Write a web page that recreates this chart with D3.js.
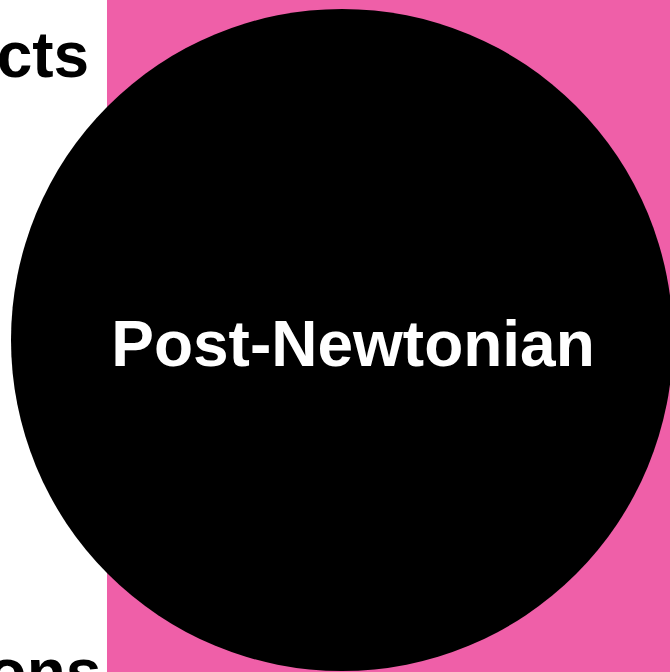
<!DOCTYPE html>
<html>
<head>
<meta charset="utf-8">
<script src="https://cdn.jsdelivr.net/npm/d3@7"></script>
<style>
  html, body { margin: 0; padding: 0; background: #fff; overflow: hidden; }
  text { font-family: "Liberation Sans", Arial, Helvetica, sans-serif; font-weight: bold; }
</style>
</head>
<body>
<div id="chart"></div>
<script>
// zoomed-in view of a packed hierarchy: one focused node, parts of its siblings
const nodeNames = ["Post-Newtonian"];
const nodeCx = [0];
const nodeCy = [0];
const nodeR = [1];

const parentName = "Relativity";
const parentX0 = -0.71;   // left edge of the parent cell, in layout units

const siblingNames = ["Tidal Effects", "Field Equations"];
const siblingX = [-0.764, -0.727];
const siblingY = [-0.795, 1.07];

const width = 670, height = 672;

const svg = d3.select("#chart")
  .append("svg")
    .attr("width", width)
    .attr("height", height);

// view window in layout units
const x = d3.scaleLinear().domain([-1, 1]).range([11, 673]);
const y = d3.scaleLinear().domain([-1, 1]).range([9, 671]);

// parent cell
svg.append("rect")
  .attr("x", x(parentX0))
  .attr("y", y(-1.1))
  .attr("width", x(1.2) - x(parentX0))
  .attr("height", y(1.2) - y(-1.1))
  .style("fill", "#ef5fa8")
  .append("title").text(parentName);

// focused node
svg.selectAll("circle.node")
  .data(nodeNames)
  .join("circle")
    .attr("class", "node")
    .attr("cx", (d, i) => x(nodeCx[i]))
    .attr("cy", (d, i) => y(nodeCy[i]))
    .attr("r", (d, i) => x(nodeR[i]) - x(0))
    .style("fill", "#000");

svg.selectAll("text.node-label")
  .data(nodeNames)
  .join("text")
    .attr("class", "node-label")
    .attr("x", (d, i) => x(nodeCx[i]) + 11)
    .attr("y", (d, i) => y(nodeCy[i]) + 26)
    .attr("text-anchor", "middle")
    .style("font-size", "64px")
    .style("fill", "#fff")
    .text(d => d);

// sibling labels running off the left edge
svg.selectAll("text.sibling")
  .data(siblingNames)
  .join("text")
    .attr("class", "sibling")
    .attr("x", (d, i) => x(siblingX[i]))
    .attr("y", (d, i) => y(siblingY[i]))
    .attr("text-anchor", "end")
    .style("font-size", "64px")
    .style("fill", "#000")
    .text(d => d);
</script>
</body>
</html>
